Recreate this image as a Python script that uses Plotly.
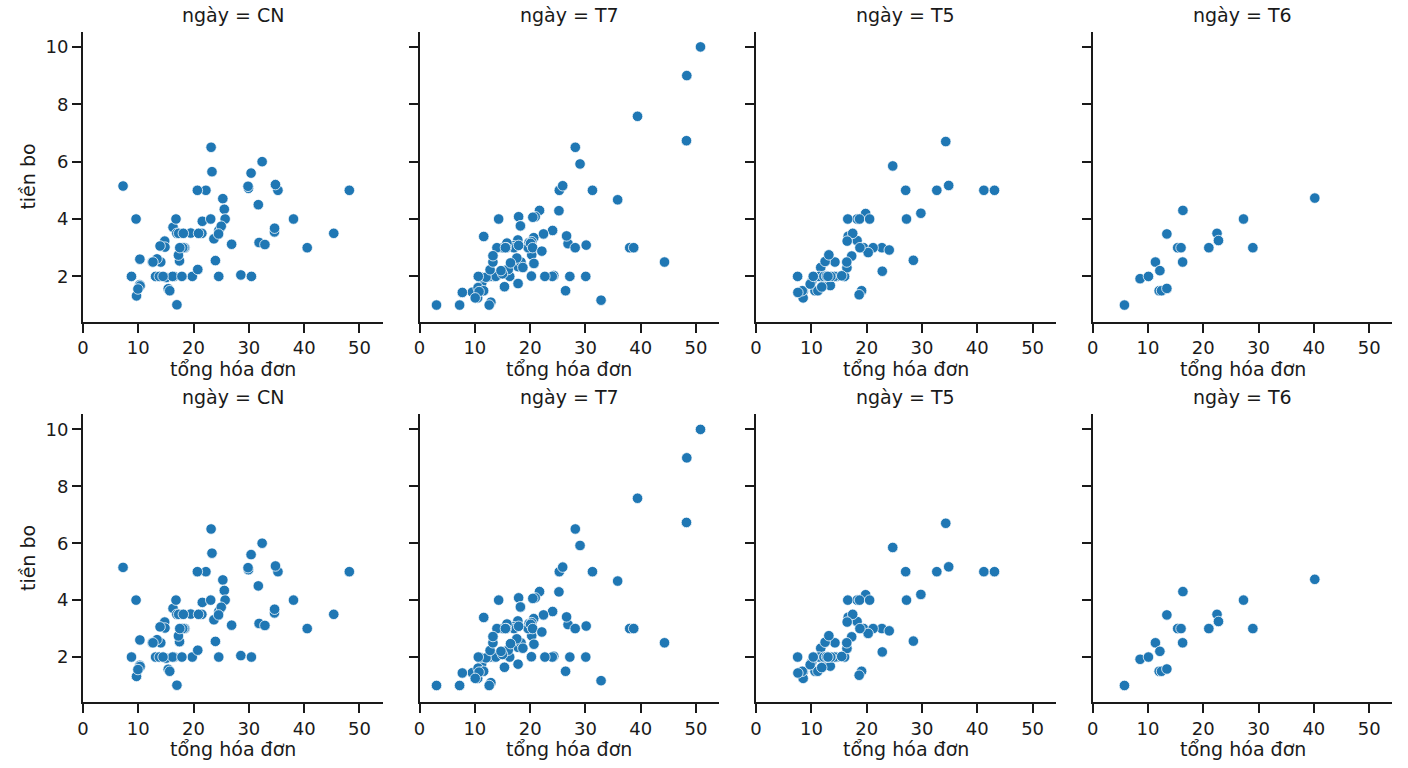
import plotly.graph_objects as go

total_bill = [16.99,10.34,21.01,23.68,24.59,25.29,8.77,26.88,15.04,14.78,10.27,35.26,15.42,18.43,14.83,21.58,10.33,16.29,16.97,20.65,
17.92,20.29,15.77,39.42,19.82,17.81,13.37,12.69,21.70,19.65,9.55,18.35,15.06,20.69,17.78,24.06,16.31,16.93,18.69,31.27,
16.04,17.46,13.94,9.68,30.40,18.29,22.23,32.40,28.55,18.04,12.54,10.29,34.81,9.94,25.56,19.49,38.01,26.41,11.24,48.27,
20.29,13.81,11.02,18.29,17.59,20.08,16.45,3.07,20.23,15.01,12.02,17.07,26.86,25.28,14.73,10.51,17.92,27.20,22.76,17.29,
19.44,16.66,10.07,32.68,15.98,34.83,13.03,18.28,24.71,21.16,28.97,22.49,5.75,16.32,22.75,40.17,27.28,12.03,21.01,12.46,
11.35,15.38,44.30,22.42,20.92,15.36,20.49,25.21,18.24,14.31,14.00,7.25,38.07,23.95,25.71,17.31,29.93,10.65,12.43,24.08,
11.69,13.42,14.26,15.95,12.48,29.80,8.52,14.52,11.38,22.82,19.08,20.27,11.17,12.26,18.26,8.51,10.33,14.15,16.00,13.16,
17.47,34.30,41.19,27.05,16.43,8.35,18.64,11.87,9.78,7.51,14.07,13.13,17.26,24.55,19.77,29.85,48.17,25.00,13.39,16.49,
21.50,12.66,16.21,13.81,17.51,24.52,20.76,31.71,10.59,10.63,50.81,15.81,7.25,31.85,16.82,32.90,17.89,14.48,9.60,34.63,
34.65,23.33,45.35,23.17,40.55,20.69,20.90,30.46,18.15,23.10,15.69,19.81,28.44,15.48,16.58,7.56,10.34,43.11,13.00,13.51,
18.71,12.74,13.00,16.40,20.53,16.47,26.59,38.73,24.27,12.76,30.06,25.89,48.33,13.27,28.17,12.90,28.15,11.59,7.74,30.14,
12.16,13.42,8.58,15.98,13.42,16.27,10.09,20.45,13.28,22.12,24.01,15.69,11.61,10.77,15.53,10.07,12.60,32.83,35.83,29.03,
27.18,22.67,17.82,18.78]

tip = [1.01,1.66,3.50,3.31,3.61,4.71,2.00,3.12,1.96,3.23,1.71,5.00,1.57,3.00,3.02,3.92,1.67,3.71,3.50,3.35,
4.08,2.75,2.23,7.58,3.18,2.34,2.00,2.00,4.30,3.00,1.45,2.50,3.00,2.45,3.27,3.60,2.00,3.07,2.31,5.00,
2.24,2.54,3.06,1.32,5.60,3.00,5.00,6.00,2.05,3.00,2.50,2.60,5.20,1.56,4.34,3.51,3.00,1.50,1.76,6.73,
3.21,2.00,1.98,3.76,2.64,3.15,2.47,1.00,2.01,2.09,1.97,3.00,3.14,5.00,2.20,1.25,3.08,4.00,3.00,2.71,
3.00,3.40,1.83,5.00,2.03,5.17,2.00,4.00,5.85,3.00,3.00,3.50,1.00,4.30,3.25,4.73,4.00,1.50,3.00,1.50,
2.50,3.00,2.50,3.48,4.08,1.64,4.06,4.29,3.76,4.00,3.00,1.00,4.00,2.55,4.00,3.50,5.07,1.50,1.80,2.92,
2.31,1.68,2.50,2.00,2.52,4.20,1.48,2.00,2.00,2.18,1.50,2.83,1.50,2.00,3.25,1.25,2.00,2.00,2.00,2.75,
3.50,6.70,5.00,5.00,2.30,1.50,1.36,1.63,1.73,2.00,2.50,2.00,2.74,2.00,2.00,5.14,5.00,3.75,2.61,2.00,
3.50,2.50,2.00,2.00,3.00,3.48,2.24,4.50,1.61,2.00,10.00,3.16,5.15,3.18,4.00,3.11,2.00,2.00,4.00,3.55,
3.68,5.65,3.50,6.50,3.00,5.00,3.50,2.00,3.50,4.00,1.50,4.19,2.56,2.02,4.00,1.44,2.00,5.00,2.00,2.00,
4.00,2.01,2.00,2.50,4.00,3.23,3.41,3.00,2.03,2.23,2.00,5.16,9.00,2.50,6.50,1.10,3.00,1.50,1.44,3.09,
2.20,3.48,1.92,3.00,1.58,2.50,2.00,3.00,2.72,2.88,2.00,3.00,3.39,1.47,3.00,1.25,1.00,1.17,4.67,5.92,
2.00,2.00,1.75,3.00]

day = (["CN"]*19 + ["T7"]*22 + ["CN"]*15 + ["T7"]*21 + ["T5"]*13 + ["T6"]*12 + ["T7"]*10 + ["CN"]*5
       + ["T5"]*33 + ["CN"]*18 + ["T7"]*4 + ["CN"]*19 + ["T5"]*15 + ["T7"]*14 + ["T6"]*7 + ["T7"]*16 + ["T5"]*1)

day_order = ["CN", "T7", "T5", "T6"]
x_ticks = [0, 10, 20, 30, 40, 50]
y_ticks = [2, 4, 6, 8, 10]

W, H = 1408, 768
col_left = [77.3, 415.3, 753.3, 1091.3]
col_w = 301.0
row_top = [31.7, 414.3]
row_bot = [321.7, 702.0]

FONT = "DejaVu Sans"
TXT = "#1a1a1a"
fig = go.Figure()
layout = dict(width=W, height=H, margin=dict(l=0, r=0, t=0, b=0),
              paper_bgcolor="white", plot_bgcolor="white", showlegend=False,
              font=dict(family=FONT, color=TXT), annotations=[])

for r in range(2):
    for c, d in enumerate(day_order):
        k = r * 4 + c + 1
        xs = [tb for tb, dd in zip(total_bill, day) if dd == d]
        ys = [tp for tp, dd in zip(tip, day) if dd == d]
        fig.add_trace(go.Scatter(
            x=xs, y=ys, mode="markers",
            xaxis=f"x{k}", yaxis=f"y{k}",
            marker=dict(size=10.5, color="#1f77b4", line=dict(color="white", width=0.75)),
        ))
        xd = [col_left[c] / W, (col_left[c] + col_w) / W]
        yd = [1 - row_bot[r] / H, 1 - row_top[r] / H]
        suffix = "" if k == 1 else str(k)
        layout["xaxis" + suffix] = dict(
            domain=xd, anchor=f"y{k}", range=[0, 54.2], tickvals=x_ticks,
            showline=True, linecolor=TXT, linewidth=2, ticks="outside", ticklen=9,
            tickwidth=2, tickcolor=TXT, showgrid=False, zeroline=False,
            tickfont=dict(size=18, family=FONT, color=TXT))
        layout["yaxis" + suffix] = dict(
            domain=yd, anchor=f"x{k}", range=[0.42, 10.53], tickvals=y_ticks,
            showline=True, linecolor=TXT, linewidth=2, ticks="outside", ticklen=9,
            tickwidth=2, tickcolor=TXT, showgrid=False, zeroline=False,
            showticklabels=(c == 0),
            tickfont=dict(size=18, family=FONT, color=TXT))
        cx = (col_left[c] + col_w / 2) / W
        layout["annotations"].append(dict(
            text=f"ngày = {d}", x=cx, y=1 - (row_top[r] - 17) / H, xref="paper", yref="paper",
            showarrow=False, xanchor="center", yanchor="middle",
            font=dict(size=19, family=FONT, color=TXT)))
        layout["annotations"].append(dict(
            text="tổng hóa đơn", x=cx, y=1 - (row_bot[r] + 47) / H, xref="paper", yref="paper",
            showarrow=False, xanchor="center", yanchor="middle",
            font=dict(size=19, family=FONT, color=TXT)))
    layout["annotations"].append(dict(
        text="tiền bo", x=22 / W, y=1 - ((row_top[r] + row_bot[r]) / 2) / H,
        xref="paper", yref="paper", showarrow=False, textangle=-90,
        xanchor="center", yanchor="middle", font=dict(size=19, family=FONT, color=TXT)))

fig.update_layout(**layout)
fig.write_html("out.html")
